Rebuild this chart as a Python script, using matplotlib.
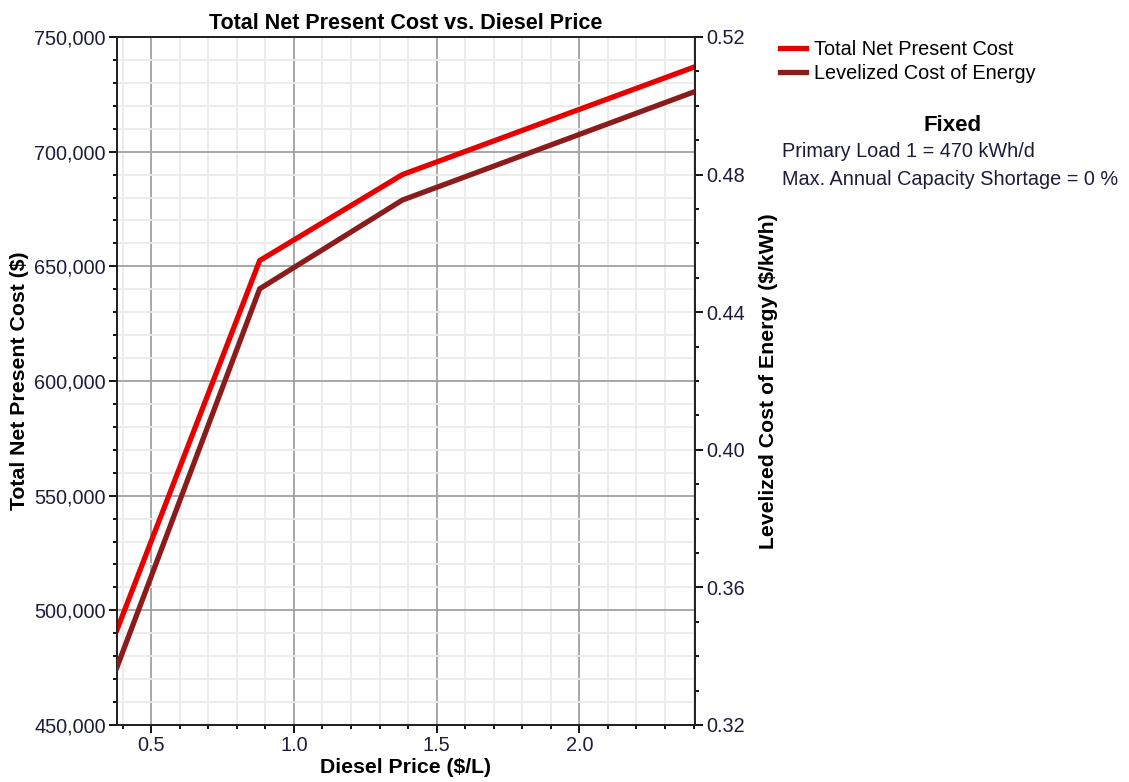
import numpy as np
import matplotlib
matplotlib.use('Agg')
from matplotlib import pyplot as plt
from matplotlib.ticker import MultipleLocator, FuncFormatter

plt.rcParams['font.family'] = ['Liberation Sans', 'DejaVu Sans']

# data
diesel_price = [0.38, 0.88, 1.38, 2.40]
total_npc = [491500, 652500, 690000, 736800]
lcoe = [0.3368, 0.4468, 0.4726, 0.5040]

fixed_lines = ['Primary Load 1 = 470 kWh/d',
               'Max. Annual Capacity Shortage = 0 %']

red = '#e60000'
dark_red = '#8c1c1c'
txt = '#1c1c3a'

fig = plt.figure(figsize=(11.29, 7.82), dpi=100)
ax = fig.add_axes([0.1036, 0.0729, 0.512, 0.8798])
ax2 = ax.twinx()

l1, = ax.plot(diesel_price, total_npc, color=red, lw=3.8,
              solid_joinstyle='miter', zorder=5, label='Total Net Present Cost')
l2, = ax2.plot(diesel_price, lcoe, color=dark_red, lw=3.8,
               solid_joinstyle='miter', zorder=4, label='Levelized Cost of Energy')

ax.set_xlim(0.38, 2.405)
ax.set_ylim(450000, 750000)
ax2.set_ylim(0.32, 0.52)

ax.xaxis.set_major_locator(MultipleLocator(0.5))
ax.xaxis.set_minor_locator(MultipleLocator(0.1))
ax.yaxis.set_major_locator(MultipleLocator(50000))
ax.yaxis.set_minor_locator(MultipleLocator(10000))
ax2.yaxis.set_major_locator(MultipleLocator(0.04))
ax2.yaxis.set_minor_locator(MultipleLocator(0.01))

ax.xaxis.set_major_formatter(FuncFormatter(lambda v, p: f'{v:.1f}'))
ax.yaxis.set_major_formatter(FuncFormatter(lambda v, p: f'{v:,.0f}'))
ax2.yaxis.set_major_formatter(FuncFormatter(lambda v, p: f'{v:.2f}'))

ax.grid(which='major', color='#a0a0a0', lw=1.3, zorder=1)
ax.grid(which='minor', color='#ebebeb', lw=1.3, zorder=0)
ax.set_axisbelow(True)

for a in (ax, ax2):
    a.tick_params(which='major', length=6, width=1.3, labelsize=14.3, labelcolor=txt, pad=2)
    a.tick_params(which='minor', length=3, width=1.3)
    for s in a.spines.values():
        s.set_linewidth(1.3)
        s.set_color('#222222')

ax.set_title('Total Net Present Cost vs. Diesel Price', fontsize=15.5,
             fontweight='bold', pad=6)
ax.set_xlabel('Diesel Price ($/L)', fontsize=15.3, fontweight='bold', labelpad=2)
ax.set_ylabel('Total Net Present Cost ($)', fontsize=15.3, fontweight='bold', labelpad=4)
ax2.set_ylabel('Levelized Cost of Energy ($/kWh)', fontsize=15.3, fontweight='bold',
               labelpad=10)

fig.legend(handles=[l1, l2], loc='upper left', bbox_to_anchor=(0.691, 0.949),
           frameon=False, fontsize=14.3, handlelength=1.3, handletextpad=0.4,
           labelspacing=0.28, borderaxespad=0, borderpad=0)

fig.text(0.844, 0.839, 'Fixed', fontsize=16, fontweight='bold', ha='center', va='center')
fig.text(0.6925, 0.806, fixed_lines[0], fontsize=14.3, color=txt, va='center')
fig.text(0.6925, 0.770, fixed_lines[1], fontsize=14.3, color=txt, va='center')

fig.savefig('out.png', dpi=100)
